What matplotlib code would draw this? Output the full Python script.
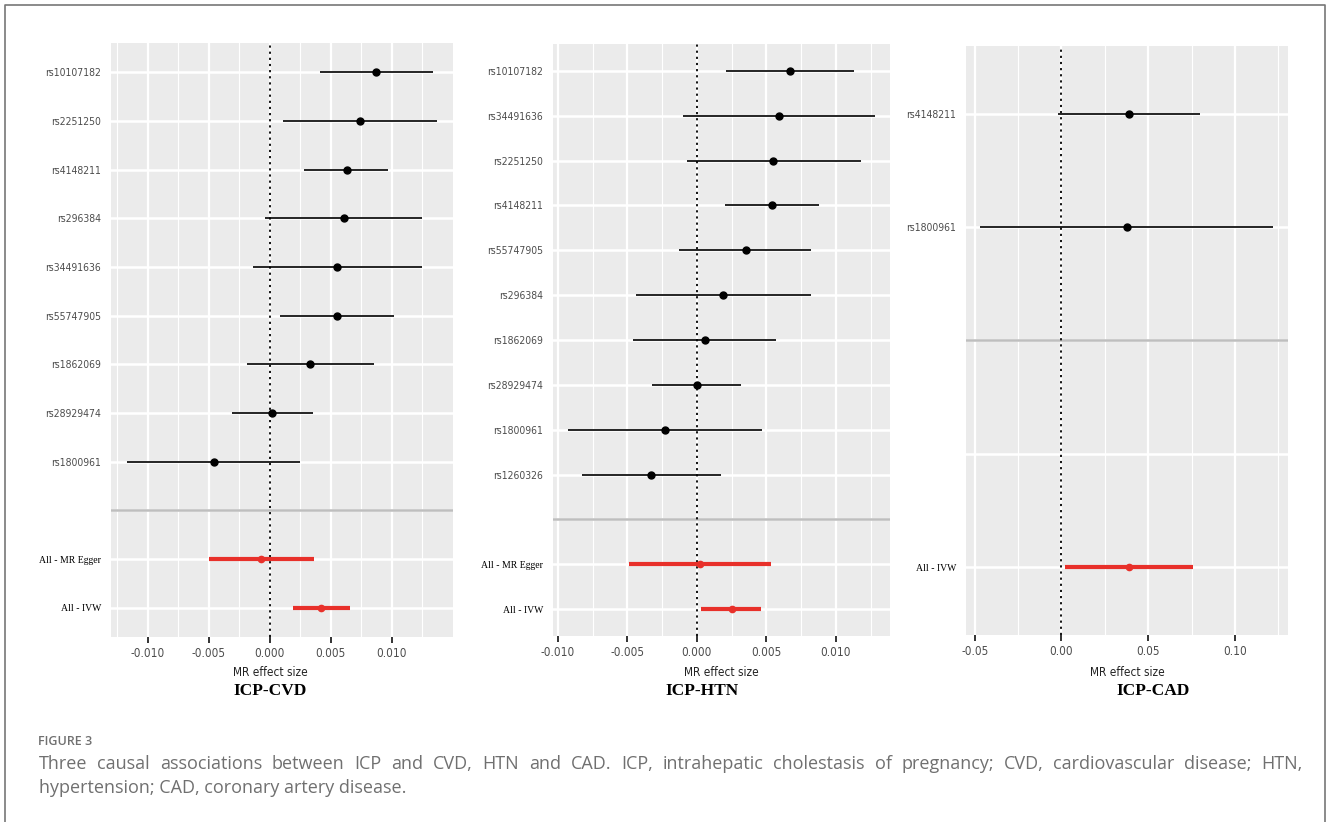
import numpy as np
import matplotlib
matplotlib.use('Agg')
import matplotlib.pyplot as plt

# ICP-CVD
cvd_snps = ['rs10107182', 'rs2251250', 'rs4148211', 'rs296384', 'rs34491636',
            'rs55747905', 'rs1862069', 'rs28929474', 'rs1800961']
cvd_b = [0.0087, 0.0074, 0.0063, 0.0061, 0.0055, 0.0055, 0.0033, 0.0002, -0.0046]
cvd_lo = [0.0041, 0.0011, 0.0028, -0.0004, -0.0014, 0.0008, -0.0019, -0.0031, -0.0117]
cvd_hi = [0.0134, 0.0137, 0.0097, 0.0125, 0.0125, 0.0102, 0.0085, 0.0035, 0.0025]
cvd_methods = ['All - MR Egger', 'All - IVW']
cvd_mb = [-0.0007, 0.0042]
cvd_mlo = [-0.0050, 0.0019]
cvd_mhi = [0.0036, 0.0066]

# ICP-HTN
htn_snps = ['rs10107182', 'rs34491636', 'rs2251250', 'rs4148211', 'rs55747905',
            'rs296384', 'rs1862069', 'rs28929474', 'rs1800961', 'rs1260326']
htn_b = [0.0067, 0.0059, 0.0055, 0.0054, 0.0035, 0.0019, 0.0006, 0.0000, -0.0023, -0.0033]
htn_lo = [0.0021, -0.0010, -0.0007, 0.0020, -0.0013, -0.0044, -0.0046, -0.0032, -0.0093, -0.0083]
htn_hi = [0.0113, 0.0128, 0.0118, 0.0088, 0.0082, 0.0082, 0.0057, 0.0032, 0.0047, 0.0017]
htn_methods = ['All - MR Egger', 'All - IVW']
htn_mb = [0.0002, 0.0025]
htn_mlo = [-0.0049, 0.0003]
htn_mhi = [0.0053, 0.0046]

# ICP-CAD
cad_snps = ['rs4148211', 'rs1800961']
cad_b = [0.039, 0.038]
cad_lo = [-0.002, -0.047]
cad_hi = [0.080, 0.122]
cad_methods = ['All - IVW']
cad_mb = [0.039]
cad_mlo = [0.002]
cad_mhi = [0.076]

tick_cvd = [-0.010, -0.005, 0.0, 0.005, 0.010]
tick_htn = [-0.010, -0.005, 0.0, 0.005, 0.010]
tick_cad = [-0.05, 0.0, 0.05, 0.10]

caption_title = 'FIGURE 3'
caption_lines = ['Three causal associations between ICP and CVD, HTN and CAD. ICP, intrahepatic '
                 'cholestasis of pregnancy; CVD, cardiovascular disease; HTN,',
                 'hypertension; CAD, coronary artery disease.']

W, H = 1328, 822
fig = plt.figure(figsize=(W / 100, H / 100), dpi=100)

narrow = dict(family='DejaVu Sans', stretch='condensed')
serif = ['Liberation Serif', 'DejaVu Serif']
red = '#E8302A'


def px_axes(l, t, r, b):
    return fig.add_axes([l / W, 1 - b / H, (r - l) / W, (b - t) / H])


def forest(ax, snps, b, lo, hi, methods, mb, mlo, mhi, xlim, major, minor, fmt, gap=0):
    k = len(methods)
    sep = k + gap + 1
    n = sep + len(snps)
    snp_y = np.arange(n, sep, -1)
    m_y = np.arange(k, 0, -1)

    ax.set_facecolor('#EBEBEB')
    for s in ax.spines.values():
        s.set_visible(False)
    ax.set_xlim(*xlim)
    ax.set_ylim(0.4, n + 0.6)

    for x in minor:
        ax.axvline(x, color='white', lw=0.8, zorder=0)
    for x in major:
        ax.axvline(x, color='white', lw=1.6, zorder=0)
    for y in range(1, n + 1):
        ax.axhline(y, color='white', lw=1.8, zorder=0)
    ax.axhline(sep, color='#BEBEBE', lw=1.8, zorder=1)
    ax.axvline(0, color='black', lw=1.3, ls=(0, (1.2, 2.2)), zorder=2)

    ax.hlines(snp_y, lo, hi, color='black', lw=1.2, zorder=3)
    ax.plot(b, snp_y, 'o', color='black', ms=5, zorder=4)
    ax.hlines(m_y, mlo, mhi, color=red, lw=3, zorder=3)
    ax.plot(mb, m_y, 'o', color=red, ms=4.5, zorder=4)

    ax.set_xticks(major)
    ax.set_xticklabels([fmt % v for v in major])
    ax.tick_params(axis='x', length=4, width=1.4, color='#333333', pad=3,
                   labelsize=8.5, labelcolor='#4D4D4D')
    for lab in ax.get_xticklabels():
        lab.set_family(narrow['family'])
        lab.set_stretch(narrow['stretch'])

    ticks = list(snp_y) + list(m_y) + list(range(k + 1, k + gap + 1))
    labels = list(snps) + list(methods) + [''] * gap
    ax.set_yticks(ticks)
    ax.set_yticklabels(labels)
    ax.tick_params(axis='y', length=0, pad=7)
    for lab in ax.get_yticklabels():
        if lab.get_text().startswith('All'):
            lab.set_family(serif)
            lab.set_fontsize(7)
            lab.set_color('black')
        else:
            lab.set_family(narrow['family'])
            lab.set_stretch(narrow['stretch'])
            lab.set_fontsize(7.5)
            lab.set_color('#4D4D4D')


ax1 = px_axes(111, 43, 453, 637)
forest(ax1, cvd_snps, cvd_b, cvd_lo, cvd_hi, cvd_methods, cvd_mb, cvd_mlo, cvd_mhi,
       (-0.0130, 0.0150), tick_cvd,
       [-0.0125, -0.0075, -0.0025, 0.0025, 0.0075, 0.0125], '%.3f')

ax2 = px_axes(553, 44, 890, 636)
forest(ax2, htn_snps, htn_b, htn_lo, htn_hi, htn_methods, htn_mb, htn_mlo, htn_mhi,
       (-0.01036, 0.0139), tick_htn,
       [-0.0075, -0.0025, 0.0025, 0.0075, 0.0125], '%.3f')

ax3 = px_axes(966, 46, 1288, 635)
forest(ax3, cad_snps, cad_b, cad_lo, cad_hi, cad_methods, cad_mb, cad_mlo, cad_mhi,
       (-0.055, 0.1306), tick_cad,
       [-0.025, 0.025, 0.075, 0.125], '%.2f', gap=1)


def ftext(x, y, s, **kw):
    return fig.text(x / W, 1 - y / H, s, **kw)


for xm, xt, t in [(270, 270, 'ICP-CVD'), (721, 702, 'ICP-HTN'), (1127, 1153, 'ICP-CAD')]:
    ftext(xm, 672, 'MR effect size', ha='center', va='center', fontsize=8.5,
          color='#222222', **narrow)
    ftext(xt, 691, t, ha='center', va='center', fontsize=12.5, family=serif,
          weight='bold', color='black')

cap = '#707070'
ftext(38, 741, caption_title, ha='left', va='center', fontsize=9, family='Open Sans',
      weight='semibold', color=cap)

# first caption line is justified across the text block, word by word
renderer = fig.canvas.get_renderer()
x0, x1 = 39, 1303
words = caption_lines[0].split(' ')
objs = [ftext(0, 764, w, ha='left', va='center', fontsize=13, family='Open Sans', color=cap)
        for w in words]
widths = [o.get_window_extent(renderer).width for o in objs]
gap_w = (x1 - x0 - sum(widths)) / (len(words) - 1)
x = x0
for o, wd in zip(objs, widths):
    o.set_x(x / W)
    x += wd + gap_w
ftext(39, 788, caption_lines[1], ha='left', va='center', fontsize=13,
      family='Open Sans', color=cap)

# outer frame (no bottom edge)
frame = fig.add_axes([0, 0, 1, 1], facecolor='none')
frame.set_xlim(0, W)
frame.set_ylim(H, 0)
frame.axis('off')
frame.plot([4.5, 4.5, 1324.5, 1324.5], [H, 5.5, 5.5, H], color='#777777', lw=1.2)

fig.savefig('out.png', dpi=100)
